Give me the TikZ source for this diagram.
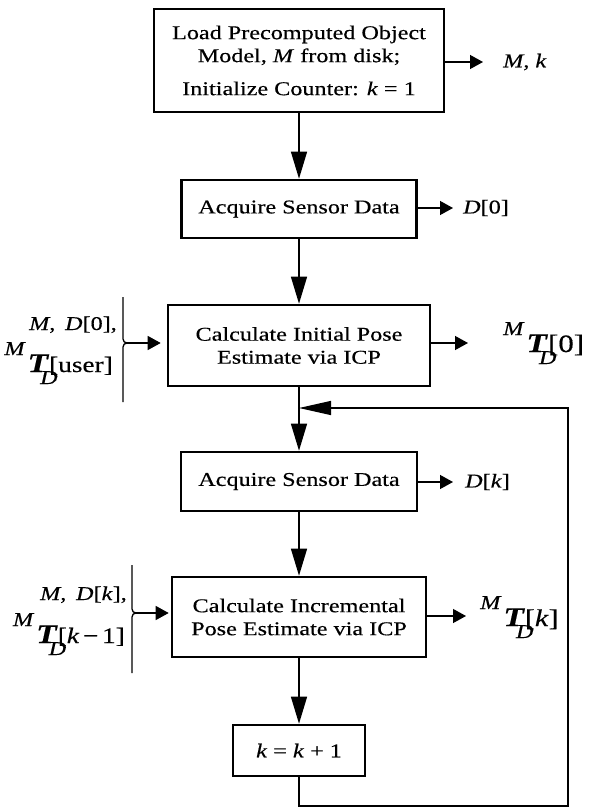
\documentclass[tikz,border=0pt]{standalone}
\usepackage{fontspec}
\setmainfont[FakeStretch=1.24,FakeBold=0.4]{Liberation Serif}
\usetikzlibrary{arrows.meta}
\newcommand\MTD[2][25]{\raisebox{17pt}{\textit{M}}\kern2pt{\fontsize{27}{27}\selectfont\textbf{\textit{T}}}\rlap{\kern-9pt\raisebox{-12pt}{\textit{D}}}{\fontsize{#1}{#1}\selectfont #2}}
\begin{document}
\begin{tikzpicture}[x=1pt,y=-1pt,
  font=\fontsize{19.5}{23}\selectfont,
  box/.style={draw,line width=2.6pt,align=center,inner sep=0pt},
  conn/.style={line width=1.3pt},
  varr/.style={conn,-{Triangle[length=27pt,width=16pt]}},
  harr/.style={conn,-{Triangle[length=13pt,width=14pt]}},
  farr/.style={conn,-{Triangle[length=32pt,width=14pt]}},
  lab/.style={inner sep=0pt}]
\useasboundingbox (0,0) rectangle (592,808);

% boxes
\node[box,minimum width=290pt,minimum height=103pt] (b1) at (299,60.5)
  {Load Precomputed Object\\ Model, \textit{M} from disk;\\[10pt] Initialize Counter: \textit{k} = 1};
\node[box,minimum width=235pt,minimum height=58pt] (b2) at (299,209) {Acquire Sensor Data};
\node[box,minimum width=262pt,minimum height=81pt] (b3) at (299,345.5) {Calculate Initial Pose\\ Estimate via ICP};
\node[box,minimum width=236pt,minimum height=59pt] (b4) at (299,481.5) {Acquire Sensor Data};
\node[box,minimum width=254pt,minimum height=80pt] (b5) at (299,617) {Calculate Incremental\\ Pose Estimate via ICP};
\node[box,minimum width=132pt,minimum height=51pt] (b6) at (299,750.5) {\textit{k} = \textit{k} + 1};

% output labels
\node[lab,anchor=west] (mk) at (503,62) {\textit{M}, \textit{k}};
\node[lab,anchor=west] (d0) at (463,208) {\textit{D}[0]};
\node[lab,anchor=base west] (t0) at (503,352) {\MTD[25]{[0]}};
\node[lab,anchor=west] (dk) at (465,482) {\textit{D}[\textit{k}]};
\node[lab,anchor=base west] (tk) at (480,626) {\MTD[24]{[\textit{k}]}};

% input labels
\node[lab,anchor=base east] (in1a) at (117,330) {\textit{M},\enspace\textit{D}[0],};
\node[lab,anchor=base east] (in1b) at (113,372) {\MTD[22]{[user]}};
\node[lab,anchor=base east] (in2a) at (127,600) {\textit{M},\enspace\textit{D}[\textit{k}],};
\node[lab,anchor=base east] (in2b) at (125,643) {\MTD[22]{[\textit{k}\,−\,1]}};

% vertical flow
\draw[varr] (b1) -- (b2);
\draw[varr] (b2) -- (b3);
\draw[varr] (b3) -- (b4);
\draw[varr] (b4) -- (b5);
\draw[varr] (b5) -- (b6);

% outputs
\draw[harr,shorten >=20pt] (b1.east |- mk.west) -- (mk.west);
\draw[harr,shorten >=10pt] (b2.east |- d0.west) -- (d0.west);
\draw[harr,shorten >=35pt] (b3.east |- 0,343) -- (t0.west |- 0,343);
\draw[harr,shorten >=12pt] (b4.east |- dk.west) -- (dk.west);
\draw[harr,shorten >=14pt] (b5.east |- 0,616) -- (tk.west |- 0,616);

% braces
\coordinate (br1) at (127,343);
\draw[conn] (123,297) -- (123,339) to[out=-90,in=180] (br1);
\draw[conn] (br1) to[out=180,in=90] (123,347) -- (123,402);
\draw[harr,shorten >=6pt] (br1) -- (br1 -| b3.west);

\coordinate (br2) at (136,613);
\draw[conn] (132,565) -- (132,609) to[out=-90,in=180] (br2);
\draw[conn] (br2) to[out=180,in=90] (132,617) -- (132,673);
\draw[harr,shorten >=2pt] (br2) -- (br2 -| b5.west);

% feedback loop
\coordinate (fbR) at (568,806);
\coordinate (join) at (299,408);
\draw[farr] (b6.south) |- (fbR) |- (join);
\end{tikzpicture}
\end{document}
